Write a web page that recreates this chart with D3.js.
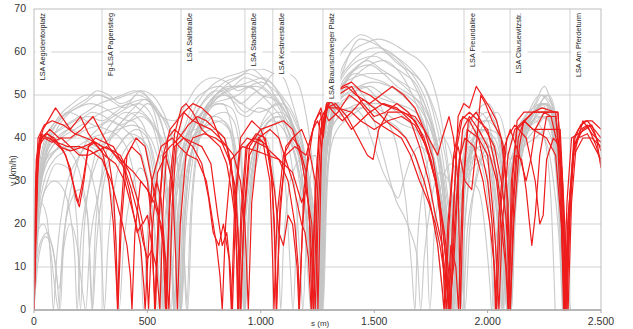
<!DOCTYPE html>
<html><head><meta charset="utf-8">
<script src="https://cdn.jsdelivr.net/npm/d3@7"></script>
<style>html,body{margin:0;padding:0;background:#fff;}svg{display:block;}</style>
</head><body>
<svg id="c" width="633" height="329"></svg>
<script>
// ---------- data ----------
const xTicks = [0, 500, 1000, 1500, 2000, 2500];
const yTicks = [0, 10, 20, 30, 40, 50, 60, 70];
const signalPos = [0, 300, 648, 930, 1053, 1274, 1896, 2099, 2363];
const signalNames = ["LSA Aegidientorplatz", "Fg-LSA Papenstieg", "LSA Sallstraße", "LSA Stadtstraße", "LSA Kestnerstraße", "LSA Braunschweiger Platz", "LSA Freundallee", "LSA Clausewitzstr.", "LSA Am Pferdeturm"];

// gray trips: flat lists of s (m), v (km/h)
const g01 = [0,5, 20,25, 50,35, 100,42, 160,46, 220,48, 280,50, 330,49, 400,47, 450,50, 500,49, 560,45, 620,44, 660,47, 720,52, 790,54, 850,53, 900,51, 950,52, 1000,50, 1060,49, 1120,45, 1180,38, 1230,25, 1260,10, 1275,0, 1290,25, 1320,45, 1380,58, 1440,63, 1500,62, 1560,60, 1620,58, 1680,55, 1740,50, 1790,42, 1830,30, 1860,15, 1880,0, 1900,20, 1940,38, 2000,42, 2060,40, 2100,35, 2150,42, 2200,46, 2260,48, 2300,44, 2330,30, 2350,10, 2365,0];
const g02 = [0,0, 15,20, 40,33, 80,38, 130,41, 200,44, 260,46, 310,45, 380,43, 430,44, 480,40, 520,30, 550,18, 570,5, 580,0, 600,15, 630,30, 680,40, 740,46, 800,50, 860,52, 920,52, 980,51, 1040,48, 1100,44, 1150,38, 1200,30, 1240,15, 1260,0, 1280,30, 1310,42, 1360,52, 1420,56, 1480,57, 1540,55, 1600,52, 1660,50, 1720,47, 1770,40, 1810,28, 1840,12, 1855,0, 1870,18, 1910,32, 1960,40, 2010,38, 2050,25, 2075,5, 2085,0, 2100,20, 2140,38, 2200,44, 2250,45, 2300,40, 2330,22, 2345,0];
const g03 = [0,0, 20,12, 50,17, 80,15, 100,8, 115,0, 130,15, 170,30, 220,38, 280,42, 340,44, 400,42, 460,38, 510,28, 545,12, 560,0, 580,20, 620,35, 670,42, 720,48, 780,52, 840,54, 900,55, 960,56, 1010,54, 1060,50, 1110,46, 1160,40, 1210,30, 1245,12, 1262,0, 1280,30, 1300,40, 1350,50, 1400,55, 1460,58, 1530,60, 1600,58, 1660,54, 1710,48, 1750,38, 1790,22, 1815,5, 1825,0, 1845,20, 1880,32, 1920,38, 1970,37, 2020,30, 2050,15, 2065,0, 2080,15, 2120,35, 2180,44, 2230,48, 2270,50, 2310,42, 2340,20, 2355,0];
const g04 = [0,2, 25,22, 60,30, 100,34, 150,33, 190,20, 205,0, 220,18, 260,34, 300,40, 350,44, 410,46, 470,44, 520,36, 560,22, 590,8, 605,0, 620,20, 660,38, 710,44, 770,47, 830,48, 880,40, 900,20, 915,0, 930,20, 970,38, 1020,44, 1080,46, 1130,44, 1180,35, 1220,20, 1250,5, 1265,0, 1285,35, 1320,46, 1370,50, 1430,52, 1500,53, 1570,52, 1640,50, 1700,47, 1750,42, 1790,35, 1820,22, 1845,8, 1860,0, 1880,20, 1920,36, 1970,42, 2030,40, 2070,30, 2095,10, 2105,0, 2120,20, 2160,38, 2210,42, 2260,45, 2300,38, 2330,15, 2342,0];
const g05 = [0,0, 20,28, 50,38, 110,44, 170,47, 230,49, 280,51, 330,50, 380,48, 430,49, 470,51, 520,48, 580,44, 630,40, 660,42, 700,48, 760,51, 820,52, 870,50, 910,48, 960,50, 1010,52, 1060,55, 1100,54, 1140,48, 1180,40, 1220,28, 1250,12, 1268,0, 1290,30, 1320,44, 1360,50, 1410,54, 1480,57, 1540,58, 1600,56, 1650,52, 1700,46, 1750,38, 1780,28, 1800,15, 1815,0, 1835,18, 1870,34, 1910,42, 1960,46, 2000,44, 2040,30, 2060,12, 2072,0, 2090,22, 2130,40, 2180,46, 2230,50, 2270,48, 2310,38, 2335,15, 2348,0];
const g06 = [0,0, 10,15, 30,25, 55,22, 75,10, 85,0, 100,12, 140,28, 190,35, 240,38, 290,36, 330,30, 360,18, 375,0, 395,15, 430,28, 470,33, 500,30, 530,18, 545,0, 565,15, 600,30, 640,36, 690,40, 740,42, 800,44, 860,42, 890,30, 905,12, 912,0, 930,18, 970,35, 1020,40, 1060,30, 1080,10, 1088,0, 1100,15, 1140,32, 1180,35, 1210,25, 1235,8, 1250,0, 1270,25, 1300,42, 1340,46, 1400,47, 1450,45, 1500,38, 1540,32, 1580,28, 1605,26, 1630,30, 1660,35, 1700,38, 1750,35, 1790,28, 1820,15, 1835,0, 1855,20, 1900,30, 1940,35, 1990,33, 2020,20, 2040,0, 2060,18, 2100,32, 2150,40, 2200,42, 2250,40, 2290,30, 2320,12, 2330,0];
const g07 = [0,0, 20,30, 60,40, 120,42, 180,44, 240,45, 300,44, 360,46, 420,48, 480,46, 540,42, 590,36, 625,22, 640,5, 648,0, 665,20, 700,38, 760,46, 820,50, 880,52, 930,54, 980,53, 1030,51, 1080,48, 1130,42, 1180,35, 1215,22, 1240,8, 1252,0, 1270,30, 1300,48, 1340,58, 1390,62, 1440,64, 1490,63, 1550,60, 1610,57, 1670,55, 1720,52, 1760,46, 1800,36, 1830,24, 1860,10, 1872,0, 1890,20, 1930,38, 1990,44, 2040,42, 2080,34, 2100,38, 2150,44, 2200,47, 2240,48, 2270,44, 2300,35, 2320,18, 2333,0];
const g08 = [0,0, 15,18, 40,20, 70,15, 95,4, 108,0, 125,14, 160,25, 200,28, 235,22, 250,8, 258,0, 275,15, 310,30, 350,36, 400,40, 450,42, 500,40, 540,32, 570,18, 590,0, 610,18, 650,32, 700,40, 750,44, 800,45, 850,43, 890,35, 915,18, 925,0, 945,20, 990,36, 1040,42, 1090,44, 1130,40, 1170,32, 1200,20, 1225,5, 1238,0, 1258,28, 1290,40, 1330,44, 1380,46, 1440,47, 1500,46, 1560,44, 1610,42, 1660,38, 1700,32, 1730,20, 1745,0, 1765,18, 1800,30, 1840,34, 1880,32, 1920,36, 1960,40, 2000,36, 2030,22, 2048,0, 2070,20, 2110,34, 2160,40, 2210,44, 2250,40, 2280,25, 2298,0];
const g09 = [0,0, 25,30, 70,40, 130,45, 190,47, 250,48, 310,47, 370,45, 420,44, 470,45, 520,43, 570,38, 610,28, 635,12, 645,0, 665,22, 710,40, 770,48, 830,50, 890,49, 940,47, 990,46, 1040,47, 1090,48, 1140,45, 1190,36, 1225,20, 1248,0, 1265,30, 1300,42, 1350,48, 1400,50, 1450,52, 1500,50, 1550,45, 1600,38, 1640,25, 1665,10, 1680,0, 1690,15, 1720,30, 1760,38, 1800,40, 1840,36, 1870,25, 1890,10, 1900,0, 1920,18, 1960,34, 2010,40, 2050,35, 2080,20, 2095,0, 2115,20, 2160,38, 2210,45, 2260,50, 2300,45, 2330,28, 2352,0];
const g10 = [0,0, 10,10, 30,16, 60,18, 90,12, 110,5, 130,14, 160,20, 190,15, 215,4, 228,0, 245,14, 280,26, 320,34, 370,38, 420,41, 470,40, 510,34, 540,22, 560,8, 570,0, 590,16, 630,32, 680,42, 740,48, 800,51, 860,50, 900,46, 940,45, 990,47, 1040,46, 1080,40, 1110,28, 1130,10, 1142,0, 1160,20, 1200,34, 1240,36, 1262,20, 1272,0, 1290,30, 1320,40, 1370,44, 1420,46, 1480,48, 1540,48, 1600,46, 1650,44, 1700,40, 1740,32, 1775,18, 1800,4, 1808,0, 1830,20, 1870,30, 1910,34, 1950,36, 1990,30, 2015,15, 2028,0, 2045,18, 2080,30, 2120,38, 2170,42, 2220,45, 2270,44, 2310,32, 2335,8, 2342,0];
const g11 = [0,0, 20,25, 50,36, 100,40, 160,42, 220,40, 280,38, 340,40, 400,43, 460,46, 500,48, 540,46, 580,40, 620,30, 640,15, 650,0, 668,18, 700,35, 750,44, 810,48, 870,47, 910,40, 925,20, 932,0, 950,22, 990,38, 1040,44, 1090,45, 1140,42, 1190,34, 1230,20, 1255,5, 1266,0, 1285,32, 1310,44, 1360,52, 1420,55, 1480,54, 1540,53, 1600,51, 1660,48, 1710,44, 1760,36, 1800,25, 1830,12, 1845,0, 1865,22, 1900,36, 1950,44, 2000,46, 2040,42, 2070,28, 2090,10, 2098,0, 2115,25, 2150,40, 2200,46, 2250,47, 2290,42, 2320,25, 2338,0];
const g12 = [0,0, 15,22, 40,32, 80,36, 120,38, 170,36, 210,30, 240,20, 255,0, 270,18, 300,32, 340,40, 390,44, 440,47, 490,49, 530,46, 560,38, 590,25, 610,10, 620,0, 640,20, 680,38, 730,45, 790,48, 850,49, 900,50, 950,52, 1000,53, 1040,52, 1080,50, 1120,46, 1160,38, 1195,25, 1220,10, 1232,0, 1250,25, 1280,42, 1320,50, 1370,55, 1430,58, 1500,59, 1570,57, 1630,55, 1690,52, 1740,45, 1780,36, 1810,24, 1835,10, 1848,0, 1865,20, 1900,34, 1940,40, 1990,42, 2030,38, 2060,25, 2078,8, 2085,0, 2100,20, 2140,36, 2190,43, 2240,46, 2280,46, 2310,36, 2335,12, 2345,0];
const g13 = [0,0, 20,32, 50,40, 100,44, 150,46, 200,45, 260,43, 320,42, 380,40, 420,36, 450,28, 470,15, 482,0, 500,18, 530,30, 560,36, 590,34, 615,25, 630,10, 638,0, 655,20, 690,36, 740,42, 790,45, 840,46, 880,44, 910,36, 925,15, 930,0, 948,24, 985,40, 1030,46, 1070,48, 1110,46, 1150,40, 1185,30, 1215,15, 1235,0, 1255,26, 1285,42, 1320,48, 1370,50, 1420,51, 1480,52, 1540,50, 1600,48, 1650,46, 1700,43, 1750,38, 1780,30, 1810,20, 1825,0, 1845,18, 1880,30, 1920,36, 1970,38, 2010,35, 2040,25, 2060,10, 2068,0, 2085,20, 2120,36, 2170,42, 2220,44, 2270,47, 2300,42, 2325,25, 2340,0];
const g14 = [0,0, 20,24, 55,34, 110,38, 170,40, 230,42, 290,43, 350,45, 410,47, 460,48, 510,46, 550,40, 585,30, 605,15, 615,0, 632,20, 670,38, 720,46, 780,50, 840,53, 890,54, 940,55, 990,54, 1040,53, 1090,50, 1140,46, 1180,40, 1215,28, 1240,12, 1255,0, 1275,30, 1305,44, 1350,52, 1410,56, 1470,58, 1530,56, 1590,54, 1650,52, 1700,50, 1750,44, 1790,36, 1820,26, 1850,14, 1865,0, 1885,22, 1925,38, 1980,44, 2030,44, 2070,36, 2095,18, 2105,0, 2122,22, 2160,40, 2210,46, 2250,48, 2290,44, 2320,30, 2345,6, 2352,0];
const g15 = [0,0, 25,28, 60,38, 110,42, 170,44, 230,46, 290,48, 340,49, 390,50, 440,51, 490,50, 540,47, 590,42, 630,35, 655,20, 670,5, 678,0, 695,22, 730,40, 780,48, 840,52, 900,54, 960,56, 1010,56, 1060,55, 1110,55, 1150,54, 1190,48, 1220,38, 1245,22, 1262,5, 1270,0, 1285,30, 1310,46, 1350,55, 1400,60, 1460,62, 1520,63, 1580,62, 1640,60, 1700,58, 1750,54, 1790,46, 1820,36, 1850,22, 1870,8, 1880,0, 1900,20, 1940,36, 1990,44, 2040,46, 2080,40, 2105,25, 2120,30, 2160,42, 2210,48, 2250,52, 2270,50, 2300,42, 2325,22, 2340,0];
const g16 = [0,0, 15,20, 45,30, 90,35, 140,37, 190,38, 250,40, 310,41, 370,42, 430,43, 480,42, 530,38, 570,30, 600,18, 615,5, 622,0, 640,18, 680,34, 730,40, 790,42, 840,40, 875,30, 895,14, 905,0, 925,20, 965,36, 1010,42, 1050,44, 1100,42, 1150,36, 1190,26, 1220,14, 1243,0, 1260,22, 1290,38, 1330,44, 1390,47, 1450,48, 1510,47, 1570,45, 1630,43, 1680,42, 1730,40, 1770,34, 1800,24, 1820,10, 1832,0, 1850,15, 1880,26, 1920,30, 1960,28, 1990,18, 2010,6, 2018,0, 2035,15, 2070,28, 2110,34, 2160,38, 2210,40, 2260,42, 2300,34, 2330,12, 2338,0];
const g17 = [0,0, 20,26, 60,36, 120,40, 180,42, 240,44, 300,46, 360,47, 420,48, 480,49, 530,47, 570,42, 600,32, 625,18, 640,4, 645,0, 660,20, 695,36, 740,44, 800,49, 860,51, 920,52, 980,52, 1040,50, 1090,46, 1130,40, 1170,30, 1195,18, 1212,5, 1220,0, 1240,20, 1270,38, 1300,46, 1350,52, 1410,54, 1480,55, 1550,55, 1610,53, 1670,50, 1720,46, 1760,40, 1795,30, 1820,18, 1838,5, 1845,0, 1862,22, 1900,38, 1950,46, 2000,48, 2040,44, 2070,32, 2090,15, 2100,0, 2118,22, 2155,40, 2200,46, 2240,50, 2280,48, 2310,38, 2338,12, 2348,0];
const g18 = [0,0, 20,30, 60,40, 110,45, 170,48, 230,50, 290,50, 350,49, 410,50, 470,51, 520,50, 570,46, 610,40, 640,30, 660,15, 672,0, 690,22, 725,40, 770,48, 830,51, 890,52, 950,53, 1010,54, 1060,52, 1100,48, 1150,42, 1190,32, 1225,18, 1245,5, 1258,0, 1275,28, 1305,44, 1350,50, 1400,52, 1450,50, 1500,44, 1540,36, 1570,30, 1600,25, 1630,22, 1660,18, 1690,12, 1705,0, 1720,12, 1750,25, 1790,32, 1830,30, 1860,20, 1880,8, 1890,0, 1910,18, 1950,30, 2000,38, 2050,36, 2080,22, 2095,0, 2110,18, 2150,36, 2200,44, 2250,48, 2290,46, 2320,30, 2340,5, 2345,0];
const g19 = [0,0, 15,26, 45,34, 90,37, 150,38, 210,36, 260,30, 290,20, 300,10, 310,0, 325,14, 360,30, 410,38, 460,40, 500,38, 530,30, 555,16, 568,0, 585,18, 620,34, 660,40, 710,42, 770,43, 830,44, 880,40, 905,28, 920,10, 926,0, 945,22, 985,38, 1035,44, 1075,45, 1115,40, 1150,28, 1175,10, 1185,0, 1205,22, 1240,36, 1268,30, 1280,38, 1310,45, 1360,48, 1420,50, 1480,50, 1540,49, 1600,48, 1650,47, 1700,45, 1740,40, 1775,32, 1805,20, 1825,6, 1832,0, 1850,20, 1890,34, 1940,40, 1990,40, 2025,30, 2050,15, 2060,0, 2078,20, 2115,36, 2165,42, 2215,46, 2260,46, 2295,36, 2322,14, 2332,0];
const g20 = [0,0, 20,20, 50,28, 90,30, 130,28, 160,22, 180,12, 190,0, 205,15, 240,28, 280,35, 330,40, 390,44, 450,46, 510,44, 555,36, 590,22, 612,5, 618,0, 635,20, 670,36, 720,44, 780,48, 840,50, 890,48, 930,46, 980,48, 1030,50, 1080,50, 1120,46, 1160,40, 1200,30, 1232,12, 1245,0, 1265,30, 1295,45, 1340,53, 1390,57, 1450,60, 1510,61, 1570,60, 1630,57, 1690,53, 1740,47, 1780,38, 1810,26, 1838,10, 1850,0, 1868,18, 1905,30, 1950,34, 2000,36, 2040,32, 2065,20, 2080,4, 2088,0, 2105,20, 2140,36, 2190,44, 2240,48, 2280,46, 2310,34, 2336,10, 2343,0];

// red trips
const r1 = [0,0, 8,20, 20,38, 40,42, 95,47, 160,42, 205,45, 240,41, 280,38, 310,36, 360,34, 400,30, 430,24, 450,20, 470,15, 485,5, 490,0, 500,10, 520,30, 560,38, 610,40, 640,38, 680,36, 720,35, 760,30, 790,20, 805,15, 820,8, 830,0, 845,20, 870,35, 920,38, 980,37, 1030,36, 1080,35, 1120,30, 1150,20, 1165,10, 1170,0, 1190,28, 1230,42, 1250,44, 1275,40, 1290,47, 1330,48, 1380,45, 1430,40, 1470,36, 1495,35, 1520,42, 1560,46, 1620,46, 1680,45, 1720,42, 1760,35, 1790,25, 1815,12, 1830,0, 1850,10, 1870,30, 1890,42, 1920,45, 1960,42, 2000,38, 2040,30, 2060,20, 2080,10, 2090,0, 2105,30, 2130,42, 2200,46, 2310,46, 2330,30, 2345,0, 2360,20, 2380,38, 2420,42, 2450,43, 2480,40, 2500,33];
const r2 = [0,0, 12,30, 30,40, 60,41, 100,39, 140,36, 170,30, 195,25, 215,30, 240,38, 270,39, 300,38, 350,37, 380,36, 420,32, 460,25, 480,20, 500,22, 520,15, 535,0, 550,20, 570,36, 600,42, 630,44, 660,46, 700,44, 740,43, 780,42, 820,40, 860,35, 890,28, 905,10, 912,0, 925,22, 950,38, 1000,42, 1050,43, 1100,44, 1140,42, 1180,35, 1210,25, 1225,12, 1232,0, 1250,28, 1270,45, 1300,48, 1340,50, 1400,52, 1450,48, 1500,45, 1550,46, 1600,48, 1650,46, 1700,42, 1740,36, 1770,30, 1790,22, 1805,10, 1812,0, 1830,20, 1850,35, 1870,38, 1900,30, 1930,28, 1950,38, 1970,50, 1990,48, 2020,44, 2060,40, 2090,25, 2100,0, 2115,20, 2140,38, 2160,44, 2200,42, 2320,42, 2340,20, 2355,0, 2370,25, 2390,38, 2420,44, 2460,41, 2500,39];
const r3 = [0,0, 5,15, 15,35, 35,40, 70,40, 110,38, 160,37, 220,38, 260,39, 300,37, 330,30, 350,20, 365,5, 370,0, 385,20, 410,36, 450,40, 490,38, 520,30, 550,22, 570,15, 580,0, 595,22, 620,38, 660,40, 700,38, 740,34, 770,26, 790,18, 815,15, 835,20, 860,12, 870,0, 885,25, 910,40, 960,44, 1000,42, 1040,36, 1060,20, 1070,0, 1085,25, 1110,36, 1150,38, 1200,36, 1240,44, 1265,47, 1280,43, 1300,49, 1350,46, 1400,42, 1440,44, 1480,46, 1540,48, 1600,47, 1660,44, 1700,38, 1740,30, 1770,22, 1800,15, 1820,5, 1835,0, 1855,20, 1875,35, 1900,40, 1940,38, 1980,30, 2010,20, 2030,10, 2040,0, 2060,25, 2085,40, 2120,43, 2170,40, 2210,30, 2230,20, 2245,22, 2260,35, 2290,40, 2320,38, 2340,15, 2350,0, 2365,25, 2385,40, 2410,43, 2440,44, 2470,42, 2500,40];
const r4 = [0,0, 10,32, 25,40, 55,41, 90,40, 130,37, 160,33, 185,26, 200,24, 220,30, 240,38, 270,40, 310,39, 350,38, 390,34, 420,28, 440,22, 455,18, 475,20, 495,12, 505,0, 520,18, 545,32, 580,36, 610,30, 625,12, 632,0, 645,20, 670,36, 700,40, 750,41, 800,40, 850,38, 880,30, 900,18, 910,0, 925,20, 950,36, 990,40, 1030,38, 1060,28, 1080,18, 1100,15, 1120,22, 1140,20, 1160,10, 1168,0, 1185,20, 1210,38, 1240,44, 1262,46, 1275,42, 1290,48, 1320,46, 1360,44, 1400,46, 1450,49, 1500,47, 1550,44, 1600,42, 1640,40, 1680,36, 1720,30, 1750,24, 1780,15, 1800,5, 1808,0, 1825,20, 1850,36, 1880,44, 1920,46, 1960,44, 2000,42, 2040,32, 2070,20, 2085,8, 2092,0, 2105,20, 2125,36, 2150,35, 2170,28, 2185,20, 2195,15, 2210,22, 2230,36, 2260,45, 2300,45, 2325,30, 2340,0, 2355,20, 2375,36, 2400,40, 2440,41, 2470,38, 2500,35];
const r5 = [0,0, 15,36, 35,40, 70,42, 110,40, 160,40, 210,42, 260,45, 290,42, 330,38, 370,35, 400,33, 430,28, 460,22, 480,16, 500,12, 520,14, 540,10, 555,0, 570,25, 590,40, 620,42, 660,40, 700,39, 740,38, 780,34, 810,22, 830,15, 850,18, 865,10, 875,0, 890,25, 910,38, 940,40, 980,39, 1020,38, 1060,36, 1100,34, 1140,32, 1180,25, 1200,28, 1225,20, 1240,0, 1255,25, 1275,44, 1290,48, 1330,51, 1380,52, 1420,50, 1480,48, 1530,50, 1580,52, 1630,50, 1680,47, 1720,42, 1760,38, 1780,36, 1800,40, 1830,45, 1850,40, 1870,30, 1880,0, 1895,30, 1915,44, 1950,46, 1990,42, 2030,38, 2060,30, 2080,22, 2095,10, 2100,0, 2115,25, 2135,40, 2160,44, 2200,46, 2240,47, 2300,46, 2320,35, 2335,0, 2350,25, 2370,40, 2400,41, 2430,42, 2460,43, 2500,37];
const r6 = [0,0, 20,38, 45,40, 80,39, 120,40, 160,38, 200,36, 240,36, 280,37, 320,38, 360,36, 400,34, 440,32, 470,30, 500,28, 530,25, 560,20, 580,12, 595,0, 610,25, 630,40, 660,46, 700,48, 740,47, 780,45, 820,40, 850,38, 880,36, 910,30, 930,20, 945,0, 960,25, 990,40, 1040,42, 1080,40, 1110,35, 1140,30, 1160,25, 1180,20, 1195,18, 1210,12, 1222,0, 1240,28, 1260,44, 1280,46, 1300,44, 1340,46, 1390,50, 1440,48, 1500,44, 1560,42, 1620,40, 1660,36, 1700,30, 1740,25, 1770,20, 1790,15, 1810,8, 1820,0, 1838,15, 1860,10, 1872,0, 1890,28, 1910,42, 1960,40, 2000,36, 2020,25, 2035,15, 2050,0, 2065,20, 2090,36, 2120,42, 2160,44, 2200,42, 2260,40, 2300,36, 2325,20, 2338,0, 2355,22, 2380,36, 2420,40, 2460,40, 2500,38];
const r7 = [0,0, 10,35, 30,41, 60,40, 100,39, 150,38, 200,38, 250,37, 300,35, 340,30, 370,24, 390,20, 410,15, 425,8, 432,0, 445,18, 470,30, 500,28, 520,25, 540,30, 560,26, 575,15, 585,0, 600,30, 620,41, 650,47, 670,48, 700,46, 740,42, 780,40, 820,38, 850,34, 870,28, 885,22, 895,12, 902,0, 915,20, 940,38, 980,41, 1020,40, 1050,30, 1062,15, 1068,0, 1085,22, 1110,38, 1140,40, 1170,38, 1200,32, 1215,20, 1225,0, 1240,25, 1258,40, 1275,44, 1295,47, 1340,47, 1400,46, 1440,44, 1500,42, 1560,44, 1620,45, 1680,43, 1730,38, 1770,30, 1800,20, 1820,10, 1830,0, 1845,20, 1865,38, 1890,45, 1920,44, 1960,40, 2000,30, 2020,20, 2030,8, 2035,0, 2050,22, 2075,38, 2100,42, 2140,36, 2170,30, 2190,35, 2210,42, 2250,46, 2280,45, 2310,38, 2330,15, 2342,0, 2360,25, 2380,38, 2410,42, 2440,43, 2480,38, 2500,34];
const r8 = [0,0, 6,28, 18,40, 45,43, 80,44, 130,43, 180,41, 230,40, 270,39, 300,38, 330,35, 350,28, 362,15, 368,0, 380,20, 400,35, 430,38, 470,36, 500,30, 520,20, 532,0, 548,22, 570,36, 600,38, 640,40, 680,43, 720,45, 760,44, 800,42, 840,40, 870,34, 890,20, 898,0, 912,22, 935,38, 970,40, 1010,39, 1040,30, 1052,12, 1058,0, 1072,22, 1100,36, 1140,40, 1180,42, 1210,38, 1240,30, 1252,0, 1268,38, 1285,46, 1320,50, 1360,52, 1400,53, 1440,51, 1480,50, 1530,48, 1580,47, 1630,46, 1680,44, 1720,40, 1750,35, 1780,28, 1810,18, 1830,8, 1838,0, 1852,25, 1870,45, 1895,48, 1920,47, 1950,52, 1975,50, 2010,47, 2040,44, 2070,38, 2085,28, 2093,0, 2110,30, 2130,44, 2160,46, 2200,46, 2310,46, 2330,30, 2345,0, 2360,20, 2380,40, 2400,42, 2430,44, 2460,44, 2500,42];

const grayTrips = [g01,g02,g03,g04,g05,g06,g07,g08,g09,g10,g11,g12,g13,g14,g15,g16,g17,g18,g19,g20];
const redTrips = [r1,r2,r3,r4,r5,r6,r7,r8];

// ---------- drawing ----------
const svg = d3.select("#c");
const x = d3.scaleLinear().domain([0, 2500]).range([34, 601]);
const y = d3.scaleLinear().domain([0, 70]).range([310, 9]);
const de = d3.formatLocale({decimal: ",", thousands: ".", grouping: [3], currency: ["", "€"]});
const fmt = de.format(",");
const toPts = a => { const p = []; for (let i = 0; i < a.length; i += 2) p.push([a[i], a[i+1]]); return p; };

// horizontal grid
svg.append("g").selectAll("line").data(yTicks.filter(d => d > 0 && d < 70)).join("line")
  .attr("x1", x(0)).attr("x2", x(2500)).attr("y1", d => y(d)).attr("y2", d => y(d))
  .attr("stroke", "#d2d2d2").attr("stroke-width", 1);
// signal lines
svg.append("g").selectAll("line").data(signalPos.filter(d => d > 0)).join("line")
  .attr("x1", d => x(d)).attr("x2", d => x(d)).attr("y1", y(70)).attr("y2", y(0))
  .attr("stroke", "#d2d2d2").attr("stroke-width", 1);

svg.append("clipPath").attr("id", "pc").append("rect")
  .attr("x", x(0)).attr("y", y(70)).attr("width", x(2500) - x(0)).attr("height", y(0) - y(70) + 1);

const line = d3.line().x(d => x(d[0])).y(d => y(d[1]));
const lg = svg.append("g").attr("clip-path", "url(#pc)");
lg.selectAll("path.g").data(grayTrips).join("path").attr("class", "g")
  .attr("d", d => line.curve(d3.curveMonotoneX)(toPts(d)))
  .attr("fill", "none").attr("stroke", "#c4c4c4").attr("stroke-width", 1.1).attr("stroke-opacity", 0.9);
lg.selectAll("path.r").data(redTrips).join("path").attr("class", "r")
  .attr("d", d => line.curve(d3.curveLinear)(toPts(d)))
  .attr("fill", "none").attr("stroke", "#ee1c1c").attr("stroke-width", 1.2).attr("stroke-linejoin", "round");

// frame
svg.append("rect").attr("x", x(0)).attr("y", y(70)).attr("width", x(2500) - x(0)).attr("height", y(0) - y(70))
  .attr("fill", "none").attr("stroke", "#bdbdbd").attr("stroke-width", 1);
svg.append("line").attr("x1", x(0)).attr("x2", x(2500)).attr("y1", y(0)).attr("y2", y(0))
  .attr("stroke", "#aaaaaa").attr("stroke-width", 1.5);

// signal labels
const lab = svg.append("g").selectAll("g").data(signalPos).join("g");
lab.each(function(d, i) {
  const g = d3.select(this);
  const cx = x(d) + 9.5;
  const t = g.append("text").text(signalNames[i])
    .attr("x", cx).attr("y", 13)
    .attr("transform", `rotate(-90,${cx},13)`)
    .attr("text-anchor", "end").attr("dominant-baseline", "middle")
    .attr("font-family", "Liberation Sans, Arial, sans-serif").attr("font-size", 7.3).attr("fill", "#222");
  const len = t.node().getComputedTextLength();
  g.insert("rect", "text").attr("x", cx - 8).attr("y", 10).attr("width", 16).attr("height", len + 6).attr("fill", "#fff");
});

// y ticks
svg.append("g").selectAll("text").data(yTicks).join("text")
  .attr("x", 26).attr("y", d => y(d)).attr("text-anchor", "end").attr("dominant-baseline", "middle")
  .attr("font-family", "Liberation Sans, Arial, sans-serif").attr("font-size", 10.5).attr("fill", "#333")
  .text(d => d);
// x ticks
svg.append("g").selectAll("line").data(xTicks).join("line")
  .attr("x1", d => x(d)).attr("x2", d => x(d)).attr("y1", y(0)).attr("y2", y(0) + 3)
  .attr("stroke", "#aaaaaa");
svg.append("g").selectAll("text").data(xTicks).join("text")
  .attr("x", d => x(d)).attr("y", 325).attr("text-anchor", "middle")
  .attr("font-family", "Liberation Sans, Arial, sans-serif").attr("font-size", 10.5).attr("fill", "#333")
  .text(d => fmt(d));

// axis titles
svg.append("text").text("v (km/h)").attr("x", 14).attr("y", 186)
  .attr("transform", "rotate(-90,14,186)").attr("dominant-baseline", "middle")
  .attr("font-family", "Liberation Sans, Arial, sans-serif").attr("font-size", 8.5).attr("fill", "#333");
svg.append("text").text("s (m)").attr("x", 311).attr("y", 326)
  .attr("font-family", "Liberation Sans, Arial, sans-serif").attr("font-size", 8).attr("fill", "#333");
</script>
</body></html>
